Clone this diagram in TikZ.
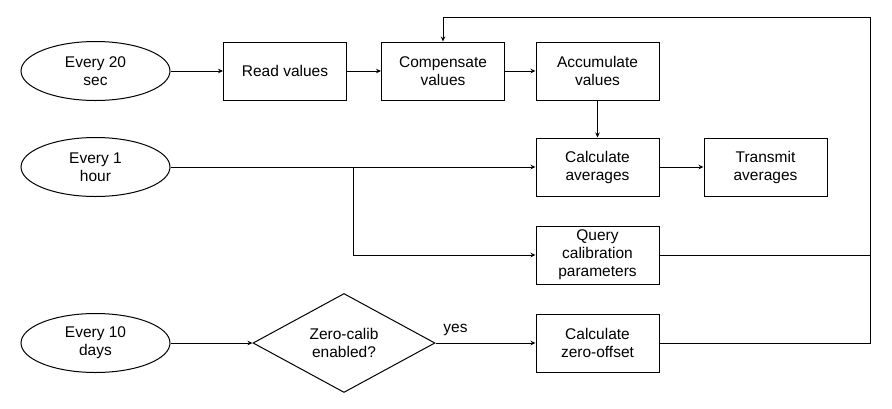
\documentclass[tikz,border=0pt]{standalone}
\usepackage{fontspec}
\setmainfont{Liberation Sans}
\usetikzlibrary{shapes.geometric,arrows.meta}
\begin{document}
\begin{tikzpicture}[x=1pt,y=-1pt,
  every node/.style={font=\fontsize{15.5}{18}\selectfont, align=center, inner sep=0pt},
  proc/.style={draw, line width=1pt, minimum width=123pt, minimum height=58pt},
  trig/.style={draw, line width=1pt, ellipse, minimum width=149pt, minimum height=59pt},
  decis/.style={draw, line width=1pt, diamond, aspect=1.84, minimum width=182pt, minimum height=99pt},
  conn/.style={line width=1pt},
  arr/.style={conn, -{Stealth[length=5pt,width=4.5pt]}}]
\useasboundingbox (0,0) rectangle (892,408);
\node[trig] (e20) at (95.5,71) {Every 20\\sec};
\node[trig] (e1h) at (95.5,167) {Every 1\\hour};
\node[trig] (e10) at (95.5,343) {Every 10\\days};
\node[proc] (read) at (285,71) {Read values};
\node[proc] (comp) at (443,71) {Compensate\\values};
\node[proc] (acc) at (597.5,71) {Accumulate\\values};
\node[proc] (avg) at (597.5,167) {Calculate\\averages};
\node[proc] (trans) at (765.5,167) {Transmit\\averages};
\node[proc] (query) at (597.5,255) {Query\\calibration\\parameters};
\node[proc] (zero) at (597.5,343) {Calculate\\zero-offset};
\node[decis] (dec) at (344,343) {Zero-calib\\enabled?};
\coordinate (jn) at (353,167);
\coordinate (rb) at (870,343);
\coordinate (rt) at (870,17);
\coordinate (lt) at (443,17);
\draw[arr] (e20) -- (read);
\draw[arr] (read) -- (comp);
\draw[arr] (comp) -- (acc);
\draw[arr] (acc) -- (avg);
\draw[arr] (e1h) -- (avg);
\draw[arr] (avg) -- (trans);
\draw[arr] (jn) |- (query);
\draw[arr] (e10) -- (dec);
\draw[arr] (dec) -- node[above=7pt, pos=0.2] {yes} (zero);
\draw[conn] (query.east) -- (query.east -| rb);
\draw[arr] (zero) -- (rb) -- (rt) -- (lt) -- (comp.north);
\end{tikzpicture}
\end{document}
